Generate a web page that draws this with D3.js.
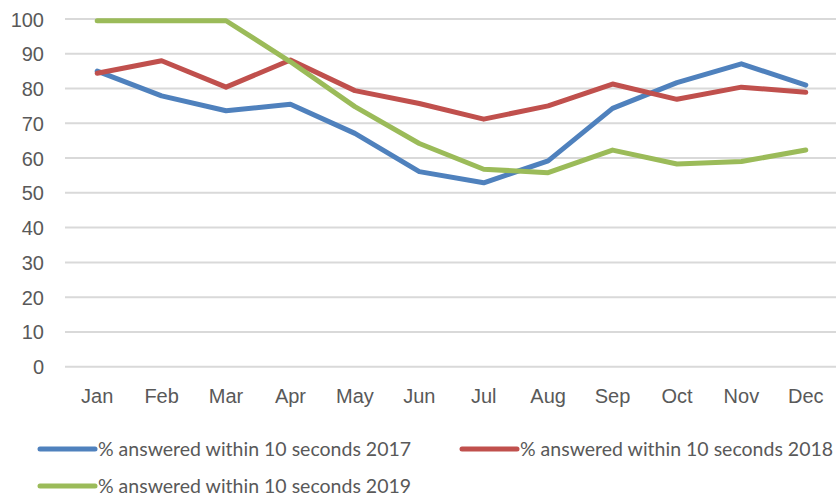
<!DOCTYPE html>
<html>
<head>
<meta charset="utf-8">
<style>
	body { margin: 0; background: #fff; }
	svg { display: block; font-family: Lato, "Open Sans", sans-serif; }
	.grid line { stroke: #d9d9d9; stroke-width: 2px; }
	.axis text { fill: #595959; font-size: 20px; }
	.legend text { fill: #595959; font-size: 19.5px; }
	.series { fill: none; stroke-width: 5px; stroke-linejoin: round; stroke-linecap: round; }
</style>
</head>
<body>
<script src="https://d3js.org/d3.v7.min.js"></script>
<script>
var months = ["Jan", "Feb", "Mar", "Apr", "May", "Jun", "Jul", "Aug", "Sep", "Oct", "Nov", "Dec"];
var yTicks = [0, 10, 20, 30, 40, 50, 60, 70, 80, 90, 100];
var values2017 = [85, 77.9, 73.6, 75.5, 67.1, 56.1, 52.9, 59.2, 74.3, 81.7, 87.1, 81];
var values2018 = [84.4, 88, 80.4, 88.2, 79.4, 75.7, 71.2, 75, 81.3, 76.9, 80.4, 78.9];
var values2019 = [99.5, 99.5, 99.5, 87.7, 74.8, 64.2, 56.8, 55.8, 62.3, 58.3, 59, 62.3];
var seriesNames = ["% answered within 10 seconds 2017", "% answered within 10 seconds 2018", "% answered within 10 seconds 2019"];
var colors = ["#4f81bd", "#c0504d", "#9bbb59"];

var width = 836, height = 497;
var svg = d3.select("body").append("svg")
	.attr("width", width)
	.attr("height", height);

var x = d3.scaleBand().domain(months).range([65, 838]);
var y = d3.scaleLinear().domain([0, 100]).range([366.7, 19]);

// gridlines
svg.append("g").attr("class", "grid")
	.selectAll("line")
	.data(yTicks)
	.enter().append("line")
	.attr("x1", 65).attr("x2", 836)
	.attr("y1", function(d) { return y(d); })
	.attr("y2", function(d) { return y(d); });

// y axis labels
var yAxis = svg.append("g").attr("class", "axis")
	.attr("transform", "translate(44,0)")
	.call(d3.axisLeft(y).tickValues(yTicks).tickSize(0).tickPadding(0));
yAxis.select(".domain").remove();
yAxis.selectAll("text").attr("dy", "0.35em");

// x axis labels
var xAxis = svg.append("g").attr("class", "axis")
	.attr("transform", "translate(0,389)")
	.call(d3.axisBottom(x).tickSize(0).tickPadding(0));
xAxis.select(".domain").remove();

var line = d3.line()
	.x(function(d, i) { return x(months[i]) + x.bandwidth() / 2; })
	.y(function(d) { return y(d); });

var allSeries = [values2017, values2018, values2019];
svg.selectAll(".series")
	.data(allSeries)
	.enter().append("path")
	.attr("class", "series")
	.attr("stroke", function(d, i) { return colors[i]; })
	.attr("d", line);

// legend
var legendPos = [[40, 449], [462, 449], [40, 486]];
var legend = svg.append("g").attr("class", "legend")
	.selectAll("g")
	.data(seriesNames)
	.enter().append("g")
	.attr("transform", function(d, i) { return "translate(" + legendPos[i][0] + "," + legendPos[i][1] + ")"; });
legend.append("line")
	.attr("x1", 0).attr("x2", 55)
	.attr("stroke", function(d, i) { return colors[i]; })
	.attr("stroke-width", 5)
	.attr("stroke-linecap", "round");
legend.append("text")
	.attr("x", 58)
	.attr("dy", "0.35em")
	.text(function(d) { return d; });
</script>
</body>
</html>
